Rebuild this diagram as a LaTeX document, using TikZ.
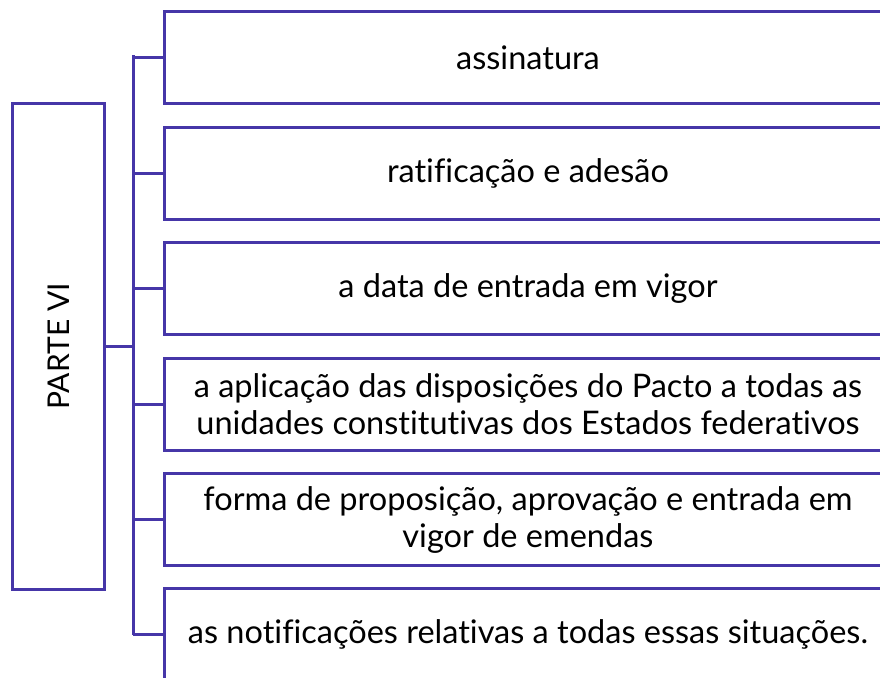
\documentclass[tikz,border=0pt]{standalone}
\usepackage{fontspec}
\setmainfont{Lato}[Ligatures={NoCommon}]
\definecolor{frame}{RGB}{70,54,168}
\begin{document}
\begin{tikzpicture}[x=1pt,y=-1pt,
  item/.style={draw=frame,line width=3pt,minimum width=727pt,minimum height=92pt,anchor=north west,inner sep=0pt,align=center,font=\fontsize{32.5}{37}\selectfont},
  head/.style={draw=frame,line width=3pt,minimum width=92pt,minimum height=486pt,anchor=north west,inner sep=0pt},
  link/.style={draw=frame,line width=3pt}]
\useasboundingbox (0,0) rectangle (880,677);
\clip (0,0) rectangle (880,677);
\node[head] (h) at (11,102) {};
\node[rotate=90,font=\fontsize{30}{34}\selectfont] (ht) at (h.center) {PARTE VI};
\node[item] (b1) at (163,10) {assinatura};
\node[item] (b2) at (163,126) {ratificação e adesão};
\node[item] (b3) at (163,241) {a data de entrada em vigor};
\node[item] (b4) at (163,357) {a aplicação das disposições do Pacto a todas as\\unidades constitutivas dos Estados federativos};
\node[item] (b5) at (163,472) {forma de proposição, aprovação e entrada em\\vigor de emendas};
\node[item] (b6) at (163,587) {as notificações relativas a todas essas situações.};
\coordinate (t) at (133,57);
\coordinate (bt) at (133,633);
\draw[link] (h.east) -- (h.east -| t);
\draw[link,line cap=rect] (t) -- (bt);
\foreach \b in {b1,b2,b3,b4,b5,b6} \draw[link] (\b.west) -- (\b.west -| t);
\end{tikzpicture}
\end{document}
